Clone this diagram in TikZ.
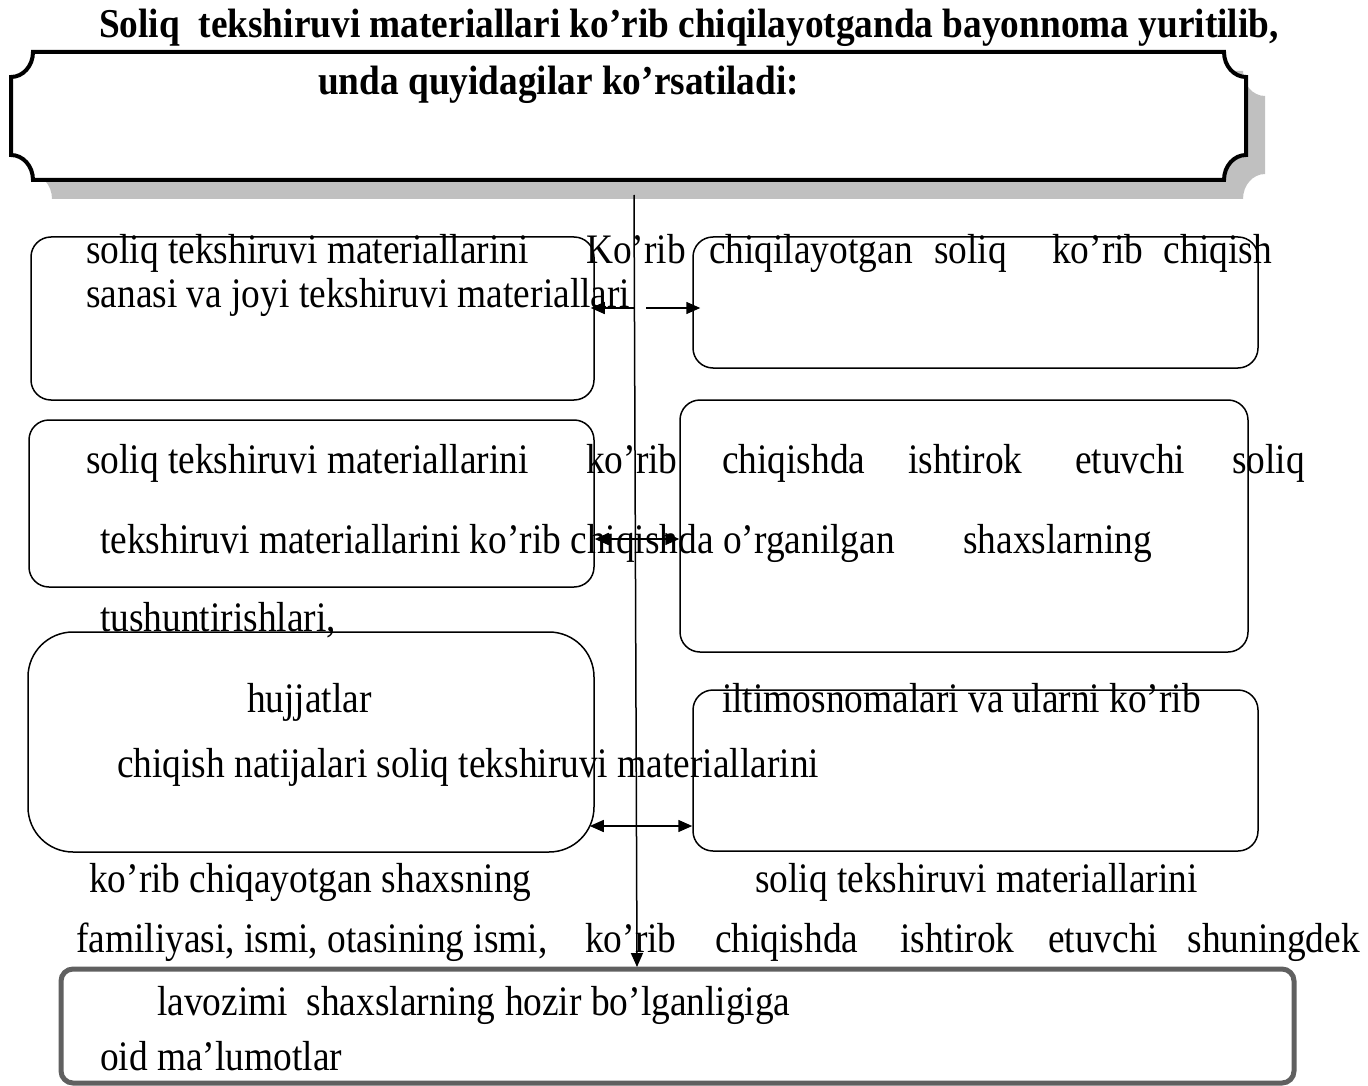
\documentclass[tikz,border=0pt]{standalone}
\usepackage{fontspec}
\setmainfont{Liberation Serif}
\newfontfamily\bodyfont{Liberation Serif}[FakeStretch=0.89]
\newfontfamily\titlefont{Liberation Serif Bold}[FakeStretch=0.91]
\usetikzlibrary{arrows.meta}
\definecolor{shadowgray}{HTML}{C0C0C0}
\definecolor{boxgray}{HTML}{606060}
\begin{document}
\begin{tikzpicture}[x=1pt,y=-1pt,
  txt/.style={anchor=base west,inner sep=0pt,font=\bodyfont\fontsize{42}{44}\selectfont},
  txtr/.style={txt,anchor=base east},
  ttl/.style={anchor=base west,inner sep=0pt,font=\titlefont\fontsize{41}{44}\selectfont},
  roundbox/.style={draw,line width=1.5pt,rounded corners=20pt,inner sep=0pt},
  graybox/.style={draw=boxgray,line width=5pt,rounded corners=12pt,inner sep=0pt},
  conn/.style={line width=1.5pt},
  tip/.tip={Triangle[length=14pt,width=12pt]}
]
\useasboundingbox (0,0) rectangle (1368,1086);
% banner shadow
\fill[shadowgray] (52,71) -- (1243,71) .. controls (1243,85) and (1253,96) .. (1265,96)
  -- (1265,174) .. controls (1253,174) and (1243,185) .. (1243,199)
  -- (52,199) .. controls (52,185) and (42,174) .. (30,174)
  -- (30,96) .. controls (42,96) and (52,85) .. (52,71) -- cycle;
% banner
\draw[line width=4pt,fill=white] (33,52) -- (1224,52) .. controls (1224,66) and (1234,77) .. (1246,77)
  -- (1246,155) .. controls (1234,155) and (1224,166) .. (1224,180)
  -- (33,180) .. controls (33,166) and (23,155) .. (11,155)
  -- (11,77) .. controls (23,77) and (33,66) .. (33,52) -- cycle;
\node[ttl] (t1) at (99,38) {Soliq\ \ tekshiruvi materiallari ko’rib chiqilayotganda bayonnoma yuritilib,};
\node[ttl] (t2) at (318,95) {unda quyidagilar ko’rsatiladi:};

% boxes
\node[roundbox,minimum width=563pt,minimum height=163pt] (L1) at (312.5,318.5) {};
\node[roundbox,minimum width=565pt,minimum height=131pt] (R1) at (975.5,302.5) {};
\node[roundbox,minimum width=565pt,minimum height=167pt] (L2) at (311.5,503.5) {};
\node[roundbox,minimum width=568pt,minimum height=252pt] (R2) at (964,526) {};
\node[roundbox,rounded corners=45pt,minimum width=566pt,minimum height=220pt] (L3) at (311,742) {};
\node[roundbox,minimum width=565pt,minimum height=161pt] (R3) at (975.5,770.5) {};
\node[graybox,minimum width=1233pt,minimum height=114pt] (B) at (677.5,1026) {};

% connectors
\coordinate (s0) at (634,195);
\coordinate (s1) at (637,967);
\draw[conn,-tip] (s0) -- (s1);
\coordinate (a1) at (634,308);
\coordinate (a1r) at (646,308);
\draw[conn,-tip] (a1) -- ([xshift=-4pt]L1.east |- a1);
\draw[conn,-tip] (a1r) -- ([xshift=8pt]R1.west |- a1r);
\coordinate (a2) at (634,539);
\draw[conn,tip-tip] (L2.east |- a2) -- (R2.west |- a2);
\coordinate (a3) at (634,826);
\draw[conn,tip-tip] ([xshift=-5pt]L3.east |- a3) -- (R3.west |- a3);

% texts
\node[txt] (w1) at (86,263) {soliq tekshiruvi materiallarini};
\node[txt] (w2) at (586,263) {Ko’rib};
\node[txt] (w3) at (709,263) {chiqilayotgan};
\node[txt] (w4) at (934,263) {soliq};
\node[txt] (w5) at (1052,263) {ko’rib};
\node[txtr] (w6) at (1272,263) {chiqish};
\node[txt] (w7) at (86,307) {sanasi va joyi tekshiruvi materiallari};

\node[txt] (w8) at (86,473) {soliq tekshiruvi materiallarini};
\node[txt] (w9) at (586,473) {ko’rib};
\node[txt] (w10) at (722,473) {chiqishda};
\node[txt] (w11) at (908,473) {ishtirok};
\node[txt] (w12) at (1075,473) {etuvchi};
\node[txtr] (w13) at (1305,473) {soliq};
\node[txt] (w14) at (100,553) {tekshiruvi materiallarini ko’rib chiqishda o’rganilgan};
\node[txt] (w15) at (963,553) {shaxslarning};
\node[txt] (w16) at (100,631) {tushuntirishlari,};

\node[txt] (w17) at (247,712) {hujjatlar};
\node[txt] (w18) at (722,712) {iltimosnomalari va ularni ko’rib};
\node[txt] (w19) at (117,777) {chiqish natijalari soliq tekshiruvi materiallarini};
\node[txt] (w20) at (89,892) {ko’rib chiqayotgan shaxsning};
\node[txt] (w21) at (755,892) {soliq tekshiruvi materiallarini};

\node[txt] (w22) at (76,952) {familiyasi, ismi, otasining ismi,};
\node[txt] (w23) at (585,952) {ko’rib};
\node[txt] (w24) at (715,952) {chiqishda};
\node[txt] (w25) at (900,952) {ishtirok};
\node[txt] (w26) at (1048,952) {etuvchi};
\node[txtr] (w27) at (1360,952) {shuningdek};
\node[txt] (w28) at (157,1015) {lavozimi\ \ shaxslarning hozir bo’lganligiga};
\node[txt] (w29) at (100,1070) {oid ma’lumotlar};
\end{tikzpicture}
\end{document}
